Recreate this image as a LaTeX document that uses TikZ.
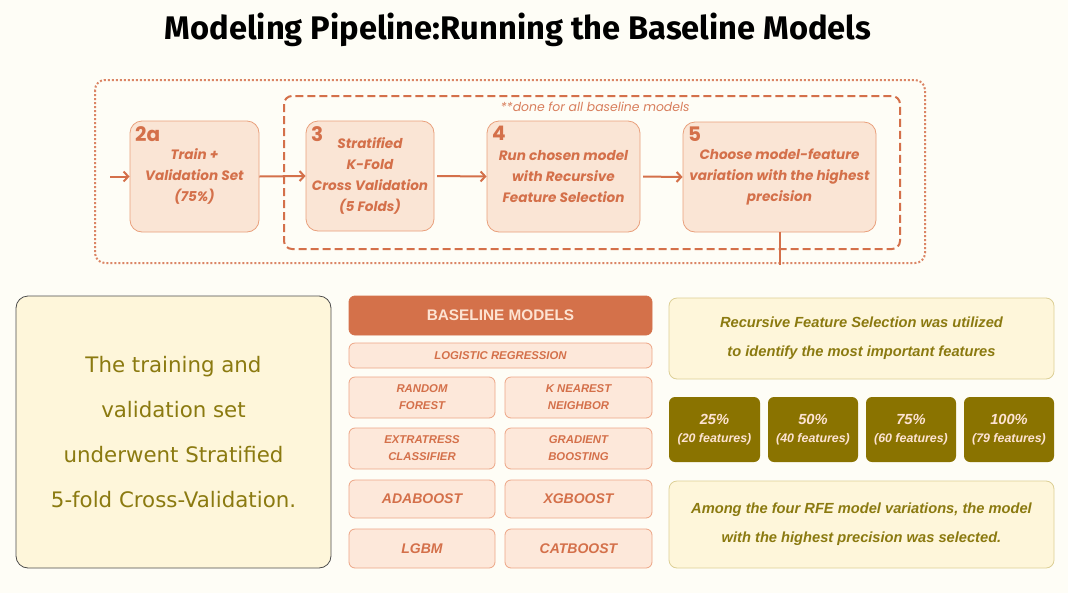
\documentclass[tikz,border=0pt]{standalone}
\usepackage{fontspec}
\setmainfont{Liberation Sans}
\newfontfamily\titlefont{Fira Sans}
\newfontfamily\popfont{Poppins}
\newfontfamily\notefont{DejaVu Sans}
\usetikzlibrary{arrows.meta}

\definecolor{bgcream}{HTML}{FEFDF6}
\definecolor{orangetxt}{HTML}{D4704A}
\definecolor{stepfill}{HTML}{FAE5D5}
\definecolor{stepline}{HTML}{E9A07C}
\definecolor{modelfill}{HTML}{FDE8DA}
\definecolor{modelline}{HTML}{EDA585}
\definecolor{headfill}{HTML}{D4714A}
\definecolor{headtxt}{HTML}{FDE3D2}
\definecolor{olive}{HTML}{8A7300}
\definecolor{olivetxt}{HTML}{8B7A10}
\definecolor{notefill}{HTML}{FEF6DA}
\definecolor{noteline}{HTML}{DCCF95}

\tikzset{
  spot/.style args={#1/#2/#3/#4}{minimum width={(#3-#1)*0.75pt}, minimum height={(#4-#2)*0.75pt},
    at={({(#1+#3)/2},{(#2+#4)/2})}},
  stepbox/.style={draw=stepline, fill=stepfill, line width=0.6pt, rounded corners=9pt,
    inner sep=0pt, align=center, text=orangetxt,
    font=\popfont\bfseries\itshape\fontsize{10.2}{15.75}\selectfont},
  stepnum/.style={anchor=north west, inner sep=0pt, text=orangetxt,
    font=\popfont\bfseries\fontsize{15}{15}\selectfont},
  flow/.style={draw=orangetxt, line width=1.5pt, -{Straight Barb[length=3.5pt,width=7.5pt]}},
  modelbox/.style={draw=modelline, fill=modelfill, line width=0.6pt, rounded corners=4.5pt,
    inner sep=0pt, align=center, text=orangetxt,
    font=\bfseries\itshape\fontsize{8.5}{12.75}\selectfont},
  bigmodel/.style={modelbox, font=\bfseries\itshape\fontsize{10.5}{10.5}\selectfont},
  notebox/.style={draw=noteline, fill=notefill, line width=0.6pt, rounded corners=6pt,
    inner sep=0pt, align=center, text=olivetxt,
    font=\bfseries\itshape\fontsize{11}{21.75}\selectfont},
  pctbox/.style={fill=olive, rounded corners=4.5pt, inner sep=0pt, align=center, text=headtxt,
    font=\bfseries\itshape\fontsize{9.3}{13.5}\selectfont},
}
\newcommand\pct[1]{{\fontsize{11}{11}\selectfont #1}}

\begin{document}
\begin{tikzpicture}[x=0.75pt, y=-0.75pt]
  \useasboundingbox (0,0) rectangle (1068,593);
  \fill[bgcream] (0,0) rectangle (1068,593);

  % title
  \node[font=\titlefont\bfseries\fontsize{24.5}{24.5}\selectfont] (title) at (518,30)
    {Modeling Pipeline:Running the Baseline Models};

  % pipeline frames
  \draw[orangetxt!85, line width=1.5pt, dash pattern=on 1.5pt off 1.5pt, rounded corners=7.5pt]
    (95,80) rectangle (925,263);
  \draw[orangetxt, line width=1.5pt, dash pattern=on 6pt off 3pt, rounded corners=6pt]
    (284,96) rectangle (900,249);
  \node[anchor=west, text=orangetxt!90, font=\popfont\itshape\fontsize{9.3}{9.3}\selectfont] (note) at (496,107)
    {**done for all baseline models};

  % pipeline steps
  \node[stepbox, spot=130/121/259/232] (s2a) {Train +\\Validation Set\\(75\%)};
  \node[stepbox, spot=306/121/434/231] (s3) {Stratified\\K-Fold\\Cross Validation\\(5 Folds)};
  \node[stepbox, spot=487/121/640/232] (s4) {Run chosen model\\with Recursive\\Feature Selection};
  \node[stepbox, spot=683/122/876/232] (s5) {Choose model-feature\\variation with the highest\\precision};
  \node[stepnum] at ([xshift=4pt,yshift=-4pt]s2a.north west) {2a};
  \node[stepnum] at ([xshift=4pt,yshift=-4pt]s3.north west) {3};
  \node[stepnum] at ([xshift=4pt,yshift=-4pt]s4.north west) {4};
  \node[stepnum] at ([xshift=4pt,yshift=-4pt]s5.north west) {5};

  \coordinate (in) at (110,176.5);
  \coordinate (out) at (780,265);
  \draw[flow] (in) -- (s2a.west);
  \draw[flow] (s2a.east) -- (s3.west);
  \draw[flow, shorten <=2pt] (s3.east) -- (s4.west);
  \draw[flow, shorten <=2pt] (s4.east) -- (s5.west);
  \draw[orangetxt, line width=1.5pt] (s5.south -| out) -- (out);

  % summary
  \node[draw=black!70, fill=notefill, line width=0.6pt, rounded corners=9pt, inner sep=0pt,
    align=center, text=olivetxt, font=\notefont\fontsize{16}{33.75}\selectfont,
    spot=16/296/331/568] (summary)
    {The training and\\validation set\\underwent Stratified\\5-fold Cross-Validation.};

  % baseline models
  \node[modelbox, fill=headfill, draw=headfill, text=headtxt, font=\bfseries\fontsize{11.5}{11.5}\selectfont,
    spot=349/296/652/335] (head) {BASELINE MODELS};
  \node[modelbox, spot=349/343/652/368] (lr) {LOGISTIC REGRESSION};
  \node[modelbox, spot=349/377/495/418] (rf) {RANDOM\\FOREST};
  \node[modelbox, spot=505/377/652/418] (knn) {K NEAREST\\NEIGHBOR};
  \node[modelbox, spot=349/428/495/469] (et) {EXTRATRESS\\CLASSIFIER};
  \node[modelbox, spot=505/428/652/469] (gb) {GRADIENT\\BOOSTING};
  \node[bigmodel, spot=349/480/495/518] (ada) {ADABOOST};
  \node[bigmodel, spot=505/480/652/518] (xgb) {XGBOOST};
  \node[bigmodel, spot=349/529/495/568] (lgbm) {LGBM};
  \node[bigmodel, spot=505/529/652/568] (cat) {CATBOOST};

  % feature selection
  \node[notebox, spot=669/298/1054/379] (rfe)
    {Recursive Feature Selection was utilized\\to identify the most important features};
  \node[pctbox, spot=669/397/760/462] (p25) {\pct{25\%}\\(20 features)};
  \node[pctbox, spot=768/397/858/462] (p50) {\pct{50\%}\\(40 features)};
  \node[pctbox, spot=866/397/956/462] (p75) {\pct{75\%}\\(60 features)};
  \node[pctbox, spot=964/397/1054/462] (p100) {\pct{100\%}\\(79 features)};
  \node[notebox, spot=669/481/1054/568] (best)
    {Among the four RFE model variations, the model\\with the highest precision was selected.};
\end{tikzpicture}
\end{document}
